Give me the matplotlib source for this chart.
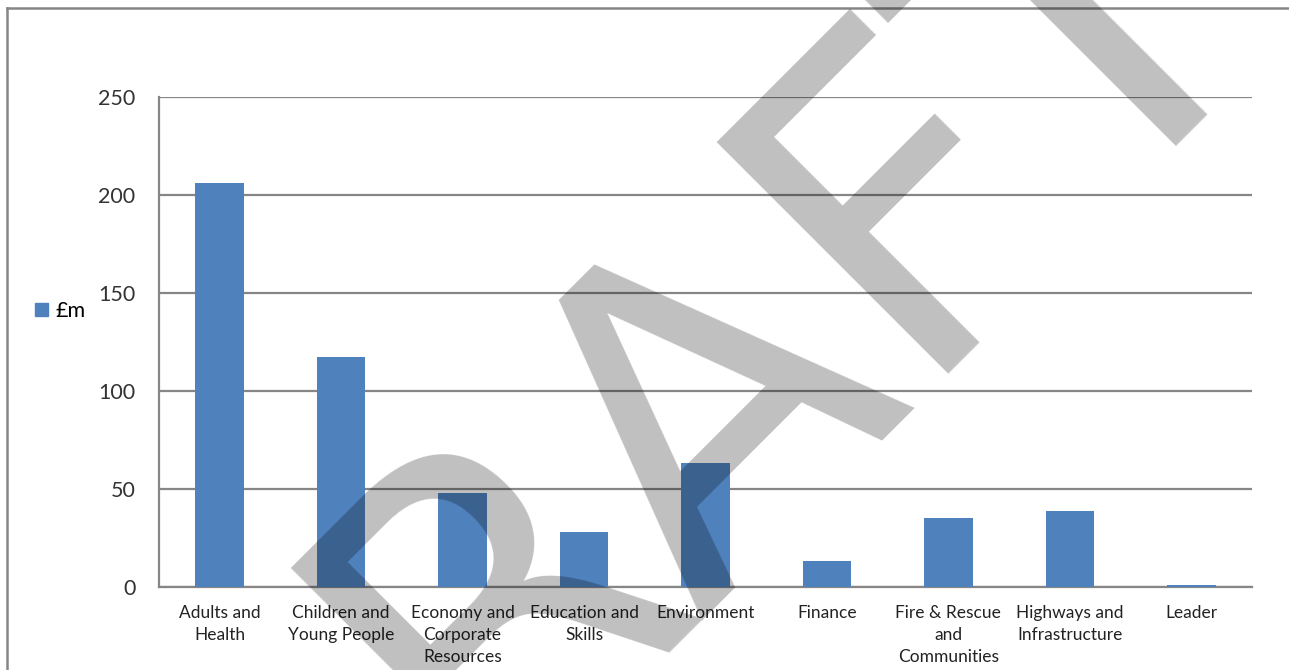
import matplotlib
matplotlib.use("Agg")
import matplotlib.pyplot as plt
from matplotlib.patches import Patch
from matplotlib.lines import Line2D

categories = ["Adults and\nHealth", "Children and\nYoung People", "Economy and\nCorporate\nResources",
              "Education and\nSkills", "Environment", "Finance", "Fire & Rescue\nand\nCommunities",
              "Highways and\nInfrastructure", "Leader"]
values = [206, 117.5, 48, 28, 63.5, 13.5, 35, 39, 1]
yticks = [0, 50, 100, 150, 200, 250]
series_name = "£m"

plt.rcParams['font.family'] = ['Lato', 'DejaVu Sans']

W, H = 1289, 670
fig = plt.figure(figsize=(W / 100, H / 100), dpi=100)
ax = fig.add_axes([159 / W, 1 - 587 / H, (1252 - 159) / W, (587 - 97) / H])

bar_color = "#4f81bd"
grid_color = "#868686"
x = range(len(categories))
ax.bar(x, values, width=0.4, color=bar_color, zorder=3)
ax.set_xlim(-0.5, len(categories) - 0.5)
ax.set_ylim(0, 250)
ax.set_yticks(yticks)
ax.set_yticklabels([str(v) for v in yticks], fontsize=15.5, color="#333333")
ax.set_xticks(list(x))
ax.set_xticklabels(categories, fontsize=12.5, color="#222222", linespacing=1.45)
ax.tick_params(axis='y', length=0, pad=17)
ax.tick_params(axis='x', length=0, pad=13)
ax.grid(axis='y', color=grid_color, linewidth=1.6, zorder=0)
for s in ["top", "right"]:
    ax.spines[s].set_visible(False)
for s in ["left", "bottom"]:
    ax.spines[s].set_color(grid_color)
    ax.spines[s].set_linewidth(1.6)

# legend
handle = Patch(color=bar_color)
leg = fig.legend([handle], [series_name], loc="center left", bbox_to_anchor=(35 / W, 1 - 311 / H),
                 frameon=False, fontsize=15.5, handlelength=0.6, handleheight=0.6, handletextpad=0.35,
                 borderpad=0, borderaxespad=0)

# outer chart frame (cropped)
fig.add_artist(Line2D([7 / W, 1.0], [1 - 8 / H, 1 - 8 / H], color=grid_color, linewidth=1.8,
                      transform=fig.transFigure))
fig.add_artist(Line2D([7 / W, 7 / W], [1 - 8 / H, 0], color=grid_color, linewidth=1.8,
                      transform=fig.transFigure))

# DRAFT watermark
fig.text(756 / W, 1 - 523 / H, "DRAFT", rotation=45, rotation_mode="anchor", ha="center",
         va="baseline", fontsize=324, color="black", alpha=0.25, family="DejaVu Sans", zorder=10)

fig.savefig("out.png", dpi=100)
